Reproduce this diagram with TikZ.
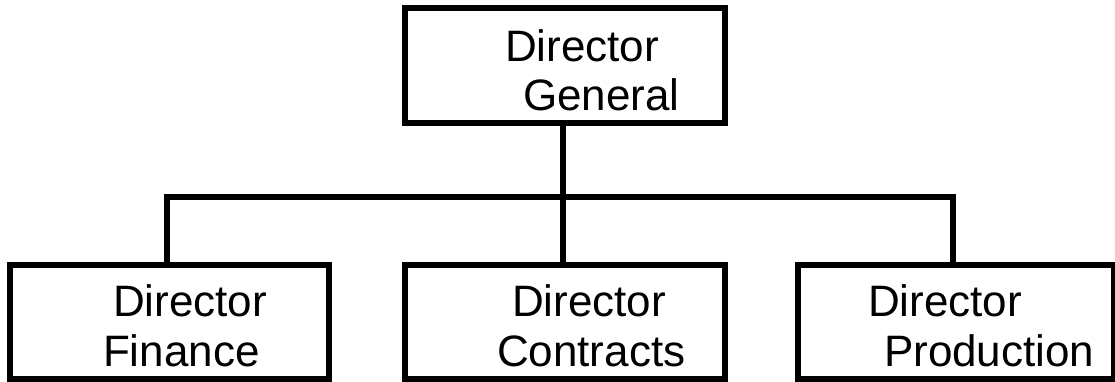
\documentclass[tikz,border=0pt]{standalone}
\usepackage{fontspec}
\setmainfont{Liberation Sans}
\begin{document}
\begin{tikzpicture}[x=1pt,y=-1pt,
  box/.style={draw=black, line width=6pt, fill=white, inner sep=0pt, outer sep=0pt},
  conn/.style={draw=black, line width=6pt},
  lbl/.style={anchor=base west, inner sep=0pt, outer sep=0pt, font=\fontsize{44}{50}\selectfont}]
\useasboundingbox (0,0) rectangle (1115,382);
% boxes
\node[box, minimum width=320pt, minimum height=115pt] (top) at (565,65.5) {};
\node[box, minimum width=319pt, minimum height=114pt] (bl) at (169.5,322) {};
\node[box, minimum width=320pt, minimum height=114pt] (bm) at (565,322) {};
\node[box, minimum width=316pt, minimum height=114pt] (br) at (956,322) {};
% connectors
\coordinate (hub) at (562.5,197);
\coordinate (jl) at (167,197);
\coordinate (jr) at (953,197);
\draw[conn] (top.south -| hub) -- (bm.north -| hub);
\draw[conn] (jl |- bl.north) -- (jl) -- (jr) -- (jr |- br.north);
% labels
\node[lbl] (t1) at (505,62) {Director};
\node[lbl] (t2) at (523,111) {General};
\node[lbl] (l1) at (113,316) {Director};
\node[lbl] (l2) at (103,366) {Finance};
\node[lbl] (m1) at (512,316) {Director};
\node[lbl] (m2) at (497,366) {Contracts};
\node[lbl] (r1) at (868,316) {Director};
\node[lbl] (r2) at (884,366) {Production};
\end{tikzpicture}
\end{document}
